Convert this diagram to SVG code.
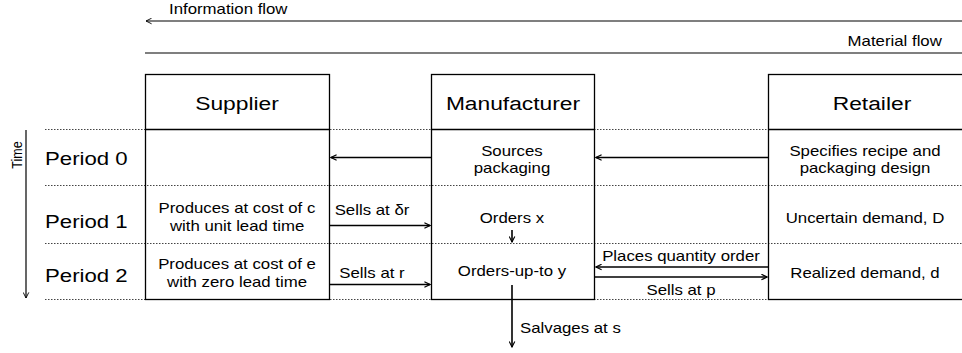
<svg xmlns="http://www.w3.org/2000/svg" width="962" height="353" viewBox="0 0 962 353">
<style>
text{font-family:"Liberation Sans",Arial,sans-serif;fill:#000;transform-box:fill-box;transform-origin:center;transform:scaleX(1.2)}
.h{font-size:19px;text-anchor:middle}
.p{font-size:18.5px;transform-origin:left center}
.c{font-size:14px;text-anchor:middle}
.l{font-size:14px;transform-origin:left center}
.r{font-size:14px;text-anchor:end;transform-origin:right center}
.t{font-size:12.5px;text-anchor:middle;transform:scaleY(1.2)}
.box{fill:none;stroke:#000;stroke-width:1.3}
.dot{stroke:#444;stroke-width:1;stroke-dasharray:1.5 1.5;fill:none}
.ar{stroke:#000;stroke-width:1.6;fill:none;marker-end:url(#a)}
.thin{stroke:#000;stroke-width:1.2;fill:none}
</style>
<defs>
<marker id="a" viewBox="0 0 10 10" refX="9" refY="5" markerWidth="7" markerHeight="7" markerUnits="userSpaceOnUse" orient="auto"><path d="M1 1L9 5L1 9" fill="none" stroke="#000" stroke-width="1.6"/></marker>
<marker id="s" viewBox="0 0 10 10" refX="9" refY="5" markerWidth="7" markerHeight="7" markerUnits="userSpaceOnUse" orient="auto"><path d="M1 1L9 5L1 9" fill="none" stroke="#000" stroke-width="1.3"/></marker>
</defs>
<g id="grid">
<line class="dot" x1="45" y1="129.5" x2="962" y2="129.5"/>
<line class="dot" x1="45" y1="185.5" x2="962" y2="185.5"/>
<line class="dot" x1="45" y1="243.5" x2="962" y2="243.5"/>
<line class="dot" x1="45" y1="299.5" x2="962" y2="299.5"/>
</g>
<g id="legend">
<line class="thin" x1="970" y1="21" x2="146" y2="21" marker-end="url(#s)"/>
<text class="l" x="169" y="14">Information flow</text>
<line class="thin" x1="145" y1="53" x2="966" y2="53"/>
<text class="r" x="942" y="46">Material flow</text>
</g>
<g id="time">
<line class="thin" x1="26" y1="130" x2="26" y2="298" marker-end="url(#s)"/>
<g transform="translate(21.5,155) rotate(-90)"><text class="t" x="0" y="0">Time</text></g>
<text class="p" x="45" y="165">Period 0</text>
<text class="p" x="45" y="228">Period 1</text>
<text class="p" x="45" y="282">Period 2</text>
</g>
<g id="supplier">
<rect class="box" x="145.5" y="74.5" width="184" height="225"/>
<line class="box" x1="145.5" y1="129.5" x2="329.5" y2="129.5"/>
<text class="h" x="237" y="110">Supplier</text>
<text class="c" x="237" y="213">Produces at cost of c</text>
<text class="c" x="237" y="231">with unit lead time</text>
<text class="c" x="237" y="269">Produces at cost of e</text>
<text class="c" x="237" y="287">with zero lead time</text>
</g>
<g id="manufacturer">
<rect class="box" x="431.5" y="74.5" width="163" height="225"/>
<line class="box" x1="431.5" y1="129.5" x2="594.5" y2="129.5"/>
<text class="h" x="513" y="110">Manufacturer</text>
<text class="c" x="512" y="156">Sources</text>
<text class="c" x="512" y="173">packaging</text>
<text class="c" x="512" y="223">Orders x</text>
<text class="c" x="512" y="276">Orders-up-to y</text>
</g>
<g id="retailer">
<rect class="box" x="768.5" y="74.5" width="210" height="225"/>
<line class="box" x1="768.5" y1="129.5" x2="978" y2="129.5"/>
<text class="h" x="872" y="110">Retailer</text>
<text class="c" x="865" y="156">Specifies recipe and</text>
<text class="c" x="865" y="173">packaging design</text>
<text class="c" x="865" y="223">Uncertain demand, D</text>
<text class="c" x="865" y="278">Realized demand, d</text>
</g>
<g id="connectors">
<line class="ar" x1="431" y1="157.5" x2="331" y2="157.5"/>
<line class="ar" x1="768" y1="157.5" x2="596" y2="157.5"/>
<line class="ar" x1="330" y1="225.5" x2="430" y2="225.5"/>
<text class="c" x="372" y="215">Sells at δr</text>
<line class="ar" x1="330" y1="284.5" x2="430" y2="284.5"/>
<text class="c" x="372" y="278">Sells at r</text>
<line class="ar" x1="512" y1="230" x2="512" y2="242"/>
<line class="ar" x1="768" y1="267" x2="596" y2="267"/>
<text class="c" x="681" y="261">Places quantity order</text>
<line class="ar" x1="595" y1="277" x2="767" y2="277"/>
<text class="c" x="681" y="295">Sells at p</text>
<line class="ar" x1="512" y1="285" x2="512" y2="347"/>
<text class="l" x="520" y="333">Salvages at s</text>
</g>
</svg>
